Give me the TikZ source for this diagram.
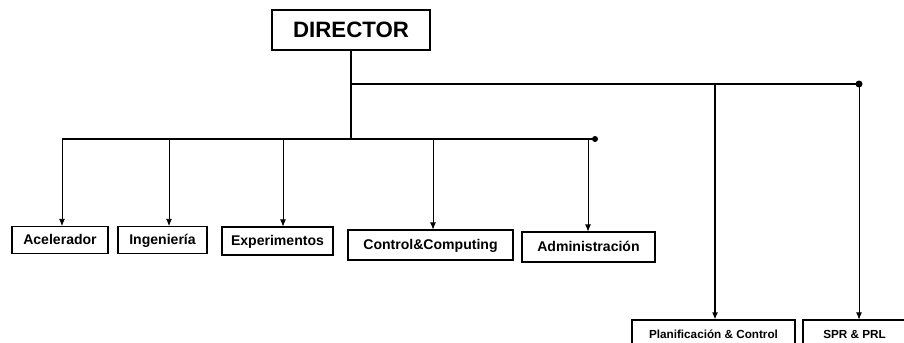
\documentclass[tikz,border=0pt]{standalone}
\usepackage{fontspec}
\setmainfont{Liberation Sans}
\usetikzlibrary{arrows.meta}

\tikzset{
  unit/.style={draw, line width=0.9pt, inner sep=0pt, text height=9pt, text depth=0.6pt, font=\bfseries\fontsize{12}{14}\selectfont},
  staff/.style={unit, text height=7.2pt, text depth=0pt, font=\bfseries\fontsize{10}{12}\selectfont},
  stem/.style={line width=1.6pt},
  bus/.style={line width=1.2pt},
  drop/.style={line width=0.6pt, -{Latex[length=6pt,width=5pt]}}
}

\begin{document}
\begin{tikzpicture}[x=0.03cm,y=-0.03cm]
\useasboundingbox (0,0) rectangle (904,343);
% boxes
\node[unit, text height=13.6pt, text depth=0pt, font=\bfseries\fontsize{19}{22}\selectfont, minimum width={158*0.03cm}, minimum height={40*0.03cm}] (dir) at (351,30) {DIRECTOR};
\node[unit, minimum width={96*0.03cm}, minimum height={27*0.03cm}] (acel) at (60,240) {Acelerador};
\node[unit, minimum width={89*0.03cm}, minimum height={27*0.03cm}] (ing) at (162.5,240) {Ingeniería};
\node[unit, minimum width={111*0.03cm}, minimum height={28*0.03cm}] (exp) at (277.5,241) {Experimentos};
\node[unit, minimum width={165*0.03cm}, minimum height={30*0.03cm}] (ctrl) at (430.5,245) {Control\&Computing};
\node[unit, minimum width={133*0.03cm}, minimum height={30*0.03cm}] (adm) at (588.5,247) {Administración};
\node[staff, minimum width={163*0.03cm}, minimum height={28*0.03cm}] (plan) at (713.5,334) {Planificación \& Control};
\node[staff, minimum width={103*0.03cm}, minimum height={28*0.03cm}] (spr) at (854.5,334) {SPR \& PRL};
% bus points
\coordinate (low) at (351,139);
\coordinate (up) at (351,84);
\coordinate (lowL) at (62,139);
\coordinate (lowR) at (595,139);
\coordinate (upR) at (859,84);
\coordinate (bIng) at (169,139);
\coordinate (bExp) at (283,139);
\coordinate (bCtrl) at (433,139);
\coordinate (bAdm) at (588,139);
\coordinate (bPlan) at (715,84);
% lines
\draw[stem] (dir.south) -- (low);
\draw[bus] (lowL) -- (lowR);
\draw[bus] (up) -- (upR);
\fill (lowR) circle (3);
\fill (upR) circle (3.5);
\draw[drop] (lowL) -- (lowL |- acel.north);
\draw[drop] (bIng) -- (bIng |- ing.north);
\draw[drop] (bExp) -- (bExp |- exp.north);
\draw[drop] (bCtrl) -- (bCtrl |- ctrl.north);
\draw[drop] (bAdm) -- (bAdm |- adm.north);
\draw[drop, line width=1.1pt] (bPlan) -- (bPlan |- plan.north);
\draw[drop] (upR) -- (upR |- spr.north);
\end{tikzpicture}
\end{document}
